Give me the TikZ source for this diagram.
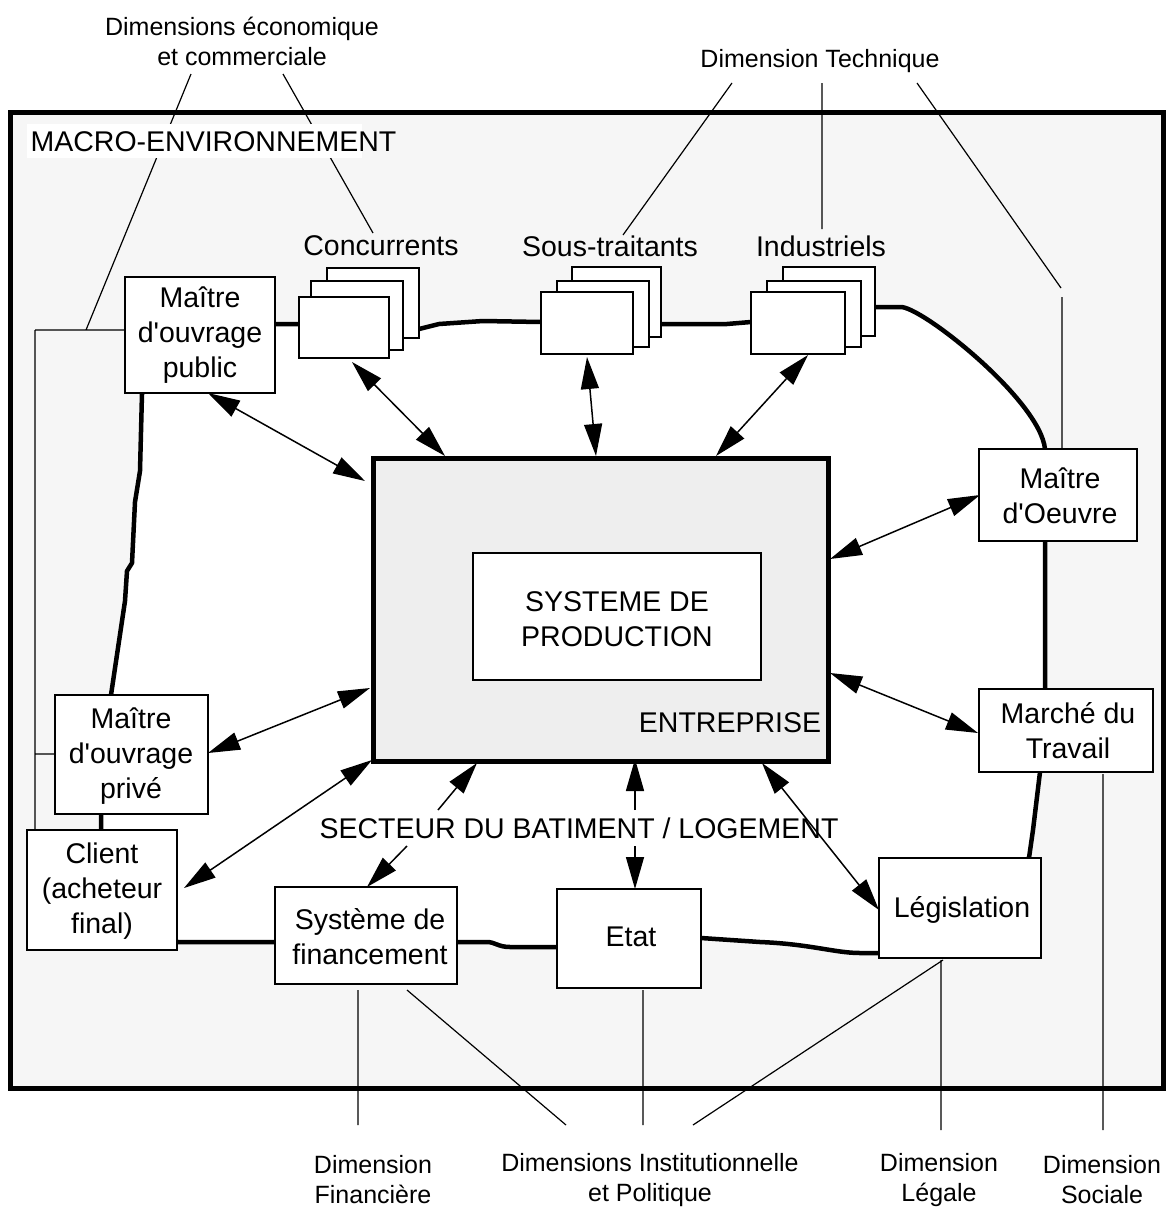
\documentclass[tikz,border=0pt]{standalone}
\usepackage{fontspec}
\setmainfont{Liberation Sans}
\usetikzlibrary{arrows.meta}
\definecolor{bggray}{HTML}{F6F6F6}
\definecolor{entgray}{HTML}{EEEEEE}
\newcommand\mkbox[6][]{%
  \pgfmathsetmacro\bw{#5-#3}\pgfmathsetmacro\bh{#6-#4}%
  \node[boxst,#1,anchor=north west,minimum width=\bw pt,minimum height=\bh pt] (#2) at (#3,#4) {};}
\begin{document}
\begin{tikzpicture}[x=1pt,y=-1pt,
  boxst/.style={draw,line width=1.5pt,fill=white,inner sep=0pt,outer sep=0pt},
  loopline/.style={line width=4.5pt,line join=round,line cap=round},
  dimline/.style={line width=1.2pt},
  tip/.tip={Triangle[length=32pt,width=18pt]},
  dbl/.style={line width=1.5pt,tip-tip},
  sgl/.style={line width=1.5pt,-tip},
  lbl/.style={font=\fontsize{28.5}{35}\selectfont,align=center,inner sep=0pt},
  dimlbl/.style={font=\fontsize{25}{30}\selectfont,align=center,inner sep=0pt}]
\useasboundingbox (0,0) rectangle (1169,1211);
% frame
\fill[bggray] (10,112) rectangle (1163,1088);
% loop path
\def\looppath{(142,393) -- (275,324) -- (299,324) -- (419,329) -- (439,324) -- (483,321) -- (541,322)
  -- (661,324) -- (727,324) -- (751,322) -- (876,307) -- (900,307)
  .. controls (920,305) and (1040,400) .. (1045,449)
  -- (1045,689) -- (1040,772) -- (1033,830) -- (1029,858) -- (879,953) -- (860,953)
  .. controls (835,953) and (810,944) .. (760,942) -- (701,938) -- (557,947) -- (510,947)
  .. controls (498,947) and (495,942) .. (487,942) -- (457,942) -- (177,942) -- (101,830)
  -- (101,814) -- (111,695) -- (125,601) -- (127,571) -- (132,563) -- (135,502) -- (140,471) -- cycle}
\fill[white] \looppath;
\draw[line width=5pt] (10,112) rectangle (1163,1088);
% dimension lines (top)
\coordinate (eco1) at (191,74); \coordinate (eco1e) at (86,330);
\coordinate (eco2) at (283,74); \coordinate (eco2e) at (373,233);
\coordinate (lv1) at (35,330); \coordinate (lv2) at (35,830); \coordinate (lv3) at (35,754);
\coordinate (tec1) at (732,83); \coordinate (tec1e) at (623,235);
\coordinate (tec2) at (822,83); \coordinate (tec2e) at (822,229);
\coordinate (tec3) at (917,83); \coordinate (tec3e) at (1061,288);
\coordinate (tec4) at (1062,297); \coordinate (tec4e) at (1062,449);
\draw[dimline] (eco1) -- (eco1e) (lv1) -- (125,330) (lv1) -- (lv2) (lv3) -- (55,754);
\draw[dimline] (eco2) -- (eco2e);
\draw[dimline] (tec1) -- (tec1e) (tec2) -- (tec2e) (tec3) -- (tec3e) (tec4) -- (tec4e);
% dimension lines (bottom)
\coordinate (fin1) at (358,990); \coordinate (fin1e) at (358,1125);
\coordinate (ins1) at (407,990); \coordinate (ins1e) at (566,1125);
\coordinate (ins2) at (643,990); \coordinate (ins2e) at (643,1125);
\coordinate (ins3) at (943,960); \coordinate (ins3e) at (693,1125);
\coordinate (leg1) at (941,960); \coordinate (leg1e) at (941,1130);
\coordinate (soc1) at (1103,774); \coordinate (soc1e) at (1103,1130);
\draw[dimline] (fin1) -- (fin1e) (ins1) -- (ins1e) (ins2) -- (ins2e) (ins3) -- (ins3e) (leg1) -- (leg1e) (soc1) -- (soc1e);
% macro label
\fill[white] (27,124) rectangle (362,158);
\node[lbl] (macro) at (213.5,142) {MACRO-ENVIRONNEMENT};
% thick loop
\draw[loopline] \looppath;
% boxes
\mkbox{mop}{125}{277}{275}{393}
\mkbox{concC}{327}{268}{419}{338}
\mkbox{concB}{311}{281}{403}{350}
\mkbox{conc}{299}{297}{389}{358}
\mkbox{sousC}{572}{267}{661}{337}
\mkbox{sousB}{557}{281}{649}{347}
\mkbox{sous}{541}{292}{633}{354}
\mkbox{indC}{783}{267}{875}{336}
\mkbox{indB}{767}{281}{861}{347}
\mkbox{ind}{751}{292}{845}{354}
\mkbox{moe}{979}{449}{1137}{541}
\mkbox{mdt}{979}{689}{1153}{772}
\mkbox{leg}{879}{858}{1041}{958}
\mkbox{etat}{557}{889}{701}{988}
\mkbox{sys}{275}{887}{457}{984}
\mkbox{cli}{27}{830}{177}{950}
\mkbox{mopr}{55}{695}{208}{814}
\mkbox[line width=5pt,fill=entgray]{ent}{373}{458}{828}{761}
\mkbox{prod}{473}{553}{761}{680}
% texts
\node[dimlbl] (ecolbl) at (242,41) {Dimensions économique\\et commerciale};
\node[dimlbl] (teclbl) at (820,61) {Dimension Technique};
\node[lbl] (conclbl) at (381,246) {Concurrents};
\node[lbl] (souslbl) at (610,246) {Sous-traitants};
\node[lbl] (indlbl) at (821,246) {Industriels};
\node[lbl] at (200,335) {Maître\\d\textquotesingle ouvrage\\public};
\node[lbl] at (1060,496) {Maître\\d\textquotesingle Oeuvre};
\node[lbl] at (1068,731) {Marché du\\Travail};
\node[lbl] at (962,910) {Législation};
\node[lbl] at (631,937) {Etat};
\node[lbl] at (370,937) {Système de\\financement};
\node[lbl] at (102,891) {Client\\(acheteur\\final)};
\node[lbl] at (131,756) {Maître\\d\textquotesingle ouvrage\\privé};
\node[lbl] at (617,619) {SYSTEME DE\\PRODUCTION};
\node[lbl] at (730,723) {ENTREPRISE};
\node[lbl,text height=20.4pt,text depth=0pt] (sect) at (579,828) {SECTEUR DU BATIMENT / LOGEMENT};
\node[dimlbl] at (373,1180) {Dimension\\Financière};
\node[dimlbl] at (650,1180) {Dimensions Institutionnelle\\et Politique};
\node[dimlbl] at (939,1180) {Dimension\\Légale};
\node[dimlbl] at (1102,1180) {Dimension\\Sociale};
% arrows
\coordinate (a1a) at (208,393); \coordinate (a1b) at (365,481);
\coordinate (a2a) at (352,362); \coordinate (a2b) at (445,456);
\coordinate (a3a) at (587,357); \coordinate (a3b) at (596,456);
\coordinate (a4a) at (808,355); \coordinate (a4b) at (716,456);
\coordinate (a5a) at (980,495); \coordinate (a5b) at (830,559);
\coordinate (a6a) at (978,733); \coordinate (a6b) at (830,673);
\coordinate (a7a) at (879,910); \coordinate (a7b) at (762,763);
\coordinate (a10a) at (184,888); \coordinate (a10b) at (372,760);
\coordinate (a11a) at (208,753); \coordinate (a11b) at (370,688);
\coordinate (s1) at (635,810); \coordinate (s1e) at (635,759);
\coordinate (s2) at (635,846); \coordinate (s2e) at (635,889);
\coordinate (s3) at (438,810); \coordinate (s3e) at (477,763);
\coordinate (s4) at (407,846); \coordinate (s4e) at (367,887);
\draw[dbl] (a1a) -- (a1b);
\draw[dbl] (a2a) -- (a2b);
\draw[dbl] (a3a) -- (a3b);
\draw[dbl] (a4a) -- (a4b);
\draw[dbl] (a5a) -- (a5b);
\draw[dbl] (a6a) -- (a6b);
\draw[dbl] (a7a) -- (a7b);
\draw[dbl] (a10a) -- (a10b);
\draw[dbl] (a11a) -- (a11b);
\draw[sgl] (s1) -- (s1e);
\draw[sgl] (s2) -- (s2e);
\draw[sgl] (s3) -- (s3e);
\draw[sgl] (s4) -- (s4e);
\end{tikzpicture}
\end{document}
